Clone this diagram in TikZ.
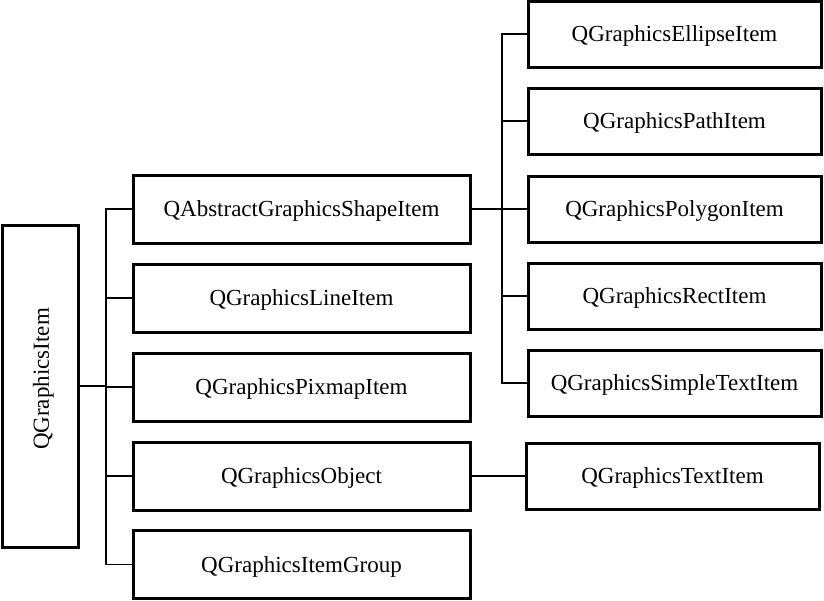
\documentclass[tikz,border=0pt]{standalone}
\usepackage{fontspec}
\setmainfont{Liberation Serif}
\begin{document}
\begin{tikzpicture}[x=1pt,y=-1pt,
  lbl/.style={font=\fontsize{23}{27}\selectfont,text depth=0pt},
  box/.style={draw,line width=3pt,inner sep=0pt,lbl},
  mid/.style={box,minimum width=337pt,minimum height=68pt},
  rgt/.style={box,minimum width=293pt,minimum height=66pt},
  conn/.style={line width=1.3pt}]
\useasboundingbox (0,0) rectangle (824,600);
\node[box,minimum width=76pt,minimum height=322pt] (root) at (40,386) {};
\node[rotate=90,lbl,inner sep=0pt] (rootlbl) at (41,379) {QGraphicsItem};
\node[mid] (a1) at (301.5,209) {QAbstractGraphicsShapeItem};
\node[mid] (a2) at (301.5,298) {QGraphicsLineItem};
\node[mid] (a3) at (301.5,387) {QGraphicsPixmapItem};
\node[mid] (a4) at (301.5,476) {QGraphicsObject};
\node[mid] (a5) at (301.5,564.5) {QGraphicsItemGroup};
\node[rgt] (b1) at (674.5,34) {QGraphicsEllipseItem};
\node[rgt] (b2) at (674.5,121) {QGraphicsPathItem};
\node[rgt] (b3) at (674.5,209) {QGraphicsPolygonItem};
\node[rgt] (b4) at (674.5,296) {QGraphicsRectItem};
\node[rgt] (b5) at (674.5,383) {QGraphicsSimpleTextItem};
\node[rgt] (c1) at (672.5,476) {QGraphicsTextItem};
\coordinate (tr) at (106,0);
\coordinate (tr2) at (502,0);
\draw[conn] (a1.west) -- (a1.west -| tr) |- (a5.west);
\draw[conn] (a2.west) -- (a2.west -| tr);
\draw[conn] (a3.west) -- (a3.west -| tr);
\draw[conn] (a4.west) -- (a4.west -| tr);
\draw[conn] (root.east) -- (root.east -| tr);
\draw[conn] (b1.west) -- (b1.west -| tr2) |- (b5.west);
\draw[conn] (b2.west) -- (b2.west -| tr2);
\draw[conn] (b4.west) -- (b4.west -| tr2);
\draw[conn] (a1.east) -- (b3.west);
\draw[conn] (a4.east) -- (c1.west);
\end{tikzpicture}
\end{document}
